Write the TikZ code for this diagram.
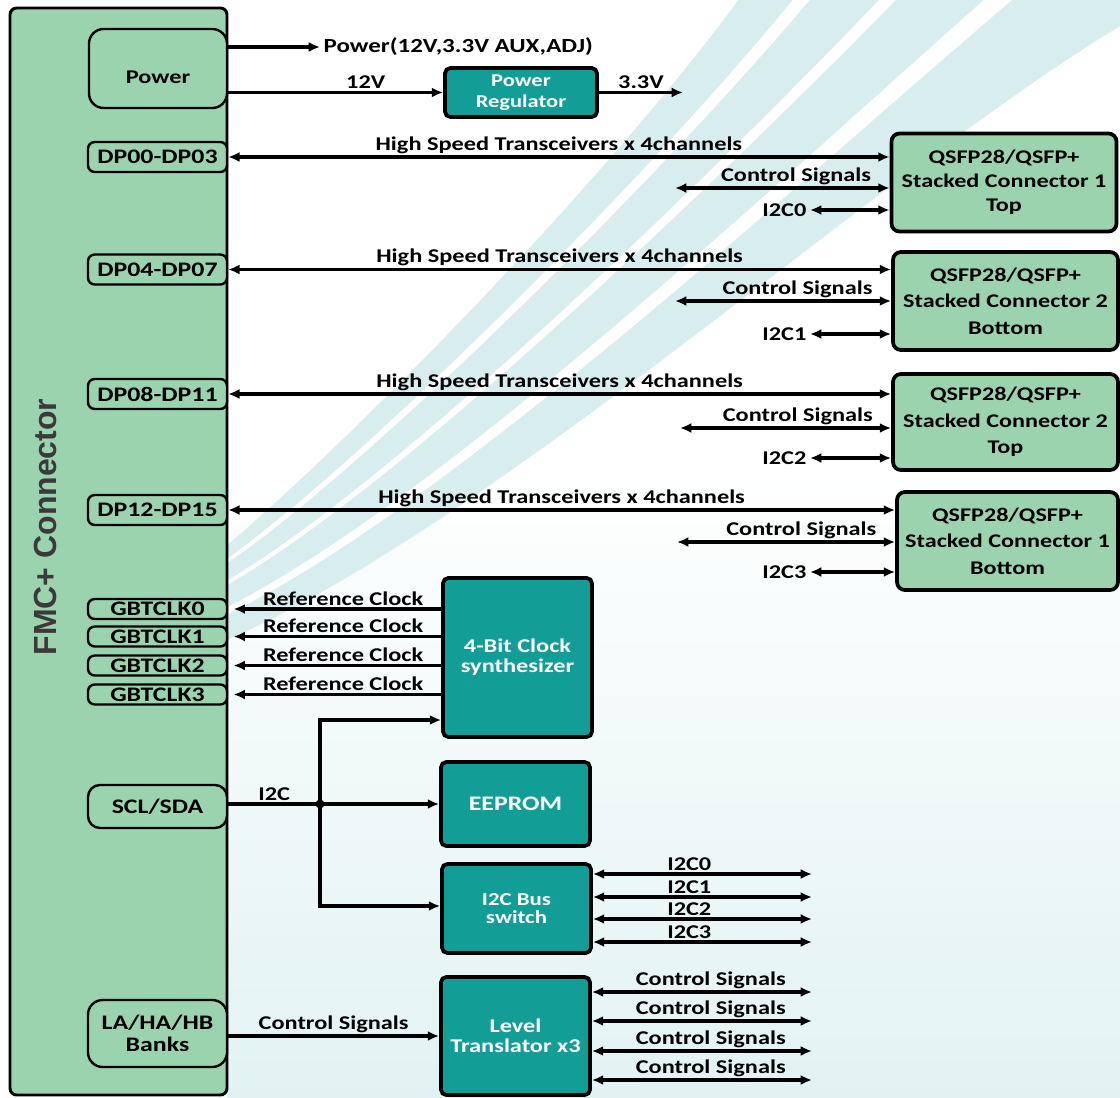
\documentclass[tikz,border=0pt]{standalone}
\usepackage{fontspec}
\setmainfont{Carlito}[FakeStretch=1.25]
\newfontfamily\arialfont{Liberation Sans}
\usetikzlibrary{arrows.meta}
\definecolor{fmcgreen}{HTML}{9BD3AE}
\definecolor{chipteal}{HTML}{129E97}
\definecolor{swoosh}{HTML}{D8EEEE}
\definecolor{fmcgray}{HTML}{3A3A3A}
\newcommand\lfont{\fontsize{14.6}{16}\selectfont\bfseries}
\newcommand\pfont{\fontsize{15.5}{17}\selectfont\bfseries}

\tikzset{
  fmcbox/.style={draw, line width=2.2pt, fill=fmcgreen, rounded corners=5pt,
    minimum width=162.75pt, minimum height=815.25pt},
  port/.style={draw, line width=1.8pt, fill=fmcgreen, rounded corners=5pt,
    minimum width=104.25pt, minimum height=22.5pt, inner sep=0pt, font=\pfont},
  qsfp/.style={draw, line width=2.8pt, fill=fmcgreen, rounded corners=6pt,
    minimum width=168.75pt, minimum height=73.5pt, inner sep=0pt, align=center,
    font=\fontsize{14.5}{20}\selectfont\bfseries},
  chip/.style={draw, line width=2.8pt, fill=chipteal, rounded corners=4pt,
    minimum width=111.75pt, inner sep=0pt, align=center, text=white,
    font=\fontsize{14.6}{15}\selectfont\bfseries},
  tip/.tip={Latex[length=8.5pt,width=7.5pt]},
  sig/.style={line width=2.4pt, -tip},
  bisig/.style={line width=2.4pt, tip-tip},
  lbl/.style={inner sep=1.5pt, font=\lfont}
}

\begin{document}
\begin{tikzpicture}[x=0.75pt,y=-0.75pt]
\useasboundingbox (0,0) rectangle (1120,1098);
% background swooshes
\fill[white] (0,0) rectangle (1120,1098);
\fill[top color=white, bottom color=swoosh!75] (227,470) rectangle (1120,1098);
\begin{scope}
\clip (227,0) rectangle (1120,1098);
\fill[swoosh] (227,545) .. controls (330,460) and (600,190) .. (742,-5) -- (1125,-5)
  -- (1125,23) .. controls (880,170) and (500,520) .. (227,640) -- cycle;
\foreach \a/\b in {0.145/0.19,0.375/0.42,0.655/0.73} {
  \fill[white] (227,{545+95*\a}) .. controls ({330+170*\a},{460+60*\a})
    and ({600+280*\a},{190-20*\a}) .. ({742+378*\a},-5)
    -- ({742+378*\b},-5) .. controls ({600+280*\b},{190-20*\b})
    and ({330+170*\b},{460+60*\b}) .. (227,{545+95*\b}) -- cycle;
}
\end{scope}

% FMC+ side
\node[fmcbox] (fmc) at (118.5,551.5) {};
\node[rotate=90, text=fmcgray, font=\arialfont\fontsize{24}{24}\selectfont\bfseries] (fmcname) at (45,527) {FMC+ Connector};
\node[port, minimum width=103.5pt, minimum height=59.25pt, rounded corners=11pt,
  label={[lbl, yshift=-6.5pt]center:Power}] (pwr) at (158,68.5) {};
\node[port] (dp0) at (157.5,157) {DP00-DP03};
\node[port] (dp4) at (157.5,269.5) {DP04-DP07};
\node[port] (dp8) at (157.5,394) {DP08-DP11};
\node[port] (dp12) at (157.5,510) {DP12-DP15};
\node[port, minimum height=15pt] (clk0) at (157.5,609) {GBTCLK0};
\node[port, minimum height=15pt] (clk1) at (157.5,636.5) {GBTCLK1};
\node[port, minimum height=15pt] (clk2) at (157.5,665.5) {GBTCLK2};
\node[port, minimum height=15pt] (clk3) at (157.5,694.5) {GBTCLK3};
\node[port, minimum height=32.25pt, rounded corners=9pt] (scl) at (157.5,806.5) {SCL/SDA};
\node[port, minimum height=50.25pt, rounded corners=11pt, align=center,
  font=\fontsize{15.5}{16.5}\selectfont\bfseries] (bank) at (157.5,1033.5) {LA/HA/HB\\Banks};

% blocks
\node[chip, minimum width=114pt, minimum height=36.75pt, font=\fontsize{13.5}{15.75}\selectfont\bfseries] (reg) at (521,92.5) {Power\\Regulator};
\node[qsfp, font=\fontsize{14.5}{18}\selectfont\bfseries] (q1) at (1004,182.5) {QSFP28/QSFP+\\Stacked Connector 1\\Top};
\node[qsfp] (q2) at (1005.5,301) {QSFP28/QSFP+\\Stacked Connector 2\\Bottom};
\node[qsfp, minimum height=72pt] (q3) at (1005.5,422) {QSFP28/QSFP+\\Stacked Connector 2\\Top};
\node[qsfp, minimum width=165.75pt] (q4) at (1007.5,541) {QSFP28/QSFP+\\Stacked Connector 1\\Bottom};
\node[chip, minimum height=119.25pt] (synth) at (517.5,657.5) {4-Bit Clock\\synthesizer};
\node[chip, minimum height=63pt, font=\fontsize{15.5}{16}\selectfont\bfseries] (eeprom) at (515.5,804) {EEPROM};
\node[chip, minimum height=66.75pt, font=\fontsize{13.7}{13}\selectfont\bfseries] (i2csw) at (516.5,908.5) {I2C Bus\\switch};
\node[chip, minimum height=88.5pt] (lvl) at (515.5,1036) {Level\\Translator x3};

% power
\coordinate (pwrout) at (320,47);
\coordinate (v33) at (683,92.5);
\draw[sig] (pwr.east |- pwrout) -- (pwrout) node[lbl, right] (pwrlbl) {\fontsize{15}{16}\selectfont Power(12V,3.3V AUX,ADJ)};
\draw[sig] (pwr.east |- reg.west) -- node[lbl, above, pos=0.64] (v12lbl) {12V} (reg.west);
\draw[sig] (reg.east) -- node[lbl, above] (v33lbl) {3.3V} (v33);

% transceivers
\draw[bisig] (dp0.east) -- node[lbl, above] (hs0) {High Speed Transceivers x 4channels} (dp0.east -| q1.west);
\draw[bisig] (dp4.east) -- node[lbl, above] (hs4) {High Speed Transceivers x 4channels} (dp4.east -| q2.west);
\draw[bisig] (dp8.east) -- node[lbl, above] (hs8) {High Speed Transceivers x 4channels} (dp8.east -| q3.west);
\draw[bisig] (dp12.east) -- node[lbl, above] (hs12) {High Speed Transceivers x 4channels} (dp12.east -| q4.west);

% control signals and i2c to QSFP
\coordinate (cs0) at (675,188);
\coordinate (cs1) at (675,301);
\coordinate (cs2) at (680,428);
\coordinate (cs3) at (677,542);
\draw[bisig] (cs0) -- node[lbl, pos=0.93, anchor=south east] (csl0) {Control Signals} (cs0 -| q1.west);
\draw[bisig] (cs1) -- node[lbl, pos=0.93, anchor=south east] (csl1) {Control Signals} (cs1 -| q2.west);
\draw[bisig] (cs2) -- node[lbl, pos=0.93, anchor=south east] (csl2) {Control Signals} (cs2 -| q3.west);
\draw[bisig] (cs3) -- node[lbl, pos=0.93, anchor=south east] (csl3) {Control Signals} (cs3 -| q4.west);
\coordinate (ic0) at (810,210);
\coordinate (ic1) at (810,334);
\coordinate (ic2) at (810,458);
\coordinate (ic3) at (810,572);
\draw[bisig] (ic0) node[lbl, left] (icl0) {I2C0} -- (ic0 -| q1.west);
\draw[bisig] (ic1) node[lbl, left] (icl1) {I2C1} -- (ic1 -| q2.west);
\draw[bisig] (ic2) node[lbl, left] (icl2) {I2C2} -- (ic2 -| q3.west);
\draw[bisig] (ic3) node[lbl, left] (icl3) {I2C3} -- (ic3 -| q4.west);

% clocks
\draw[sig, shorten >=4pt] (synth.west |- clk0) -- node[lbl, above, pos=0.46] (rc0) {Reference Clock} (clk0.east);
\draw[sig, shorten >=4pt] (synth.west |- clk1) -- node[lbl, above, pos=0.46] (rc1) {Reference Clock} (clk1.east);
\draw[sig, shorten >=4pt] (synth.west |- clk2) -- node[lbl, above, pos=0.46] (rc2) {Reference Clock} (clk2.east);
\draw[sig, shorten >=4pt] (synth.west |- clk3) -- node[lbl, above, pos=0.46] (rc3) {Reference Clock} (clk3.east);

% i2c bus
\coordinate (tap) at (320,804);
\coordinate (tapup) at (320,720);
\coordinate (tapdn) at (320,906);
\draw[sig] (scl.east |- tap) -- node[lbl, above] (i2clbl) {I2C} (tap) -- (eeprom.west);
\draw[sig] (tap) -- (tapup) -- (tapup -| synth.west);
\draw[sig] (tap) -- (tapdn) -- (tapdn -| i2csw.west);
\fill (tap) circle (4.5);
\coordinate (sw0) at (812,874);
\coordinate (sw1) at (812,897);
\coordinate (sw2) at (812,919);
\coordinate (sw3) at (812,942);
\draw[bisig] (i2csw.east |- sw0) -- node[lbl, above, pos=0.44] (swl0) {I2C0} (sw0);
\draw[bisig] (i2csw.east |- sw1) -- node[lbl, above, pos=0.44] (swl1) {I2C1} (sw1);
\draw[bisig] (i2csw.east |- sw2) -- node[lbl, above, pos=0.44] (swl2) {I2C2} (sw2);
\draw[bisig] (i2csw.east |- sw3) -- node[lbl, above, pos=0.44] (swl3) {I2C3} (sw3);

% level translator
\draw[sig] (bank.east |- lvl.west) -- node[lbl, above] (ctl) {Control Signals} (lvl.west);
\coordinate (lt0) at (812,992);
\coordinate (lt1) at (812,1021);
\coordinate (lt2) at (812,1051);
\coordinate (lt3) at (812,1080);
\draw[bisig] (lvl.east |- lt0) -- node[lbl, above, pos=0.54] (ltl0) {Control Signals} (lt0);
\draw[bisig] (lvl.east |- lt1) -- node[lbl, above, pos=0.54] (ltl1) {Control Signals} (lt1);
\draw[bisig] (lvl.east |- lt2) -- node[lbl, above, pos=0.54] (ltl2) {Control Signals} (lt2);
\draw[bisig] (lvl.east |- lt3) -- node[lbl, above, pos=0.54] (ltl3) {Control Signals} (lt3);
\end{tikzpicture}
\end{document}
